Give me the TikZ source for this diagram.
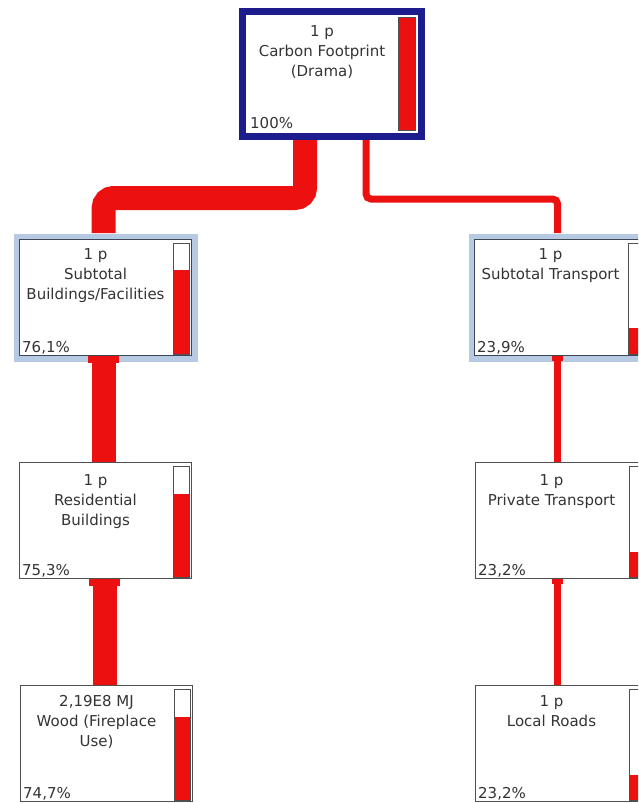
\documentclass[tikz,border=0pt]{standalone}
\usepackage{fontspec}
\setmainfont{DejaVu Sans}
\usetikzlibrary{calc,arrows.meta}

\definecolor{flowred}{RGB}{236,16,16}
\definecolor{navy}{RGB}{28,28,140}
\definecolor{frameblue}{RGB}{182,202,228}
\definecolor{edgegray}{RGB}{80,80,80}
\definecolor{subedge}{RGB}{62,70,86}
\definecolor{inkgray}{RGB}{52,52,52}

\tikzset{
  procbox/.style={draw=edgegray, line width=1.3pt, fill=white,
    minimum width=172pt, minimum height=116pt, inner sep=0pt, anchor=north west},
  subbox/.style={procbox, draw=subedge, preaction={draw=frameblue, line width=12pt}},
  rootbox/.style={draw=navy, line width=7pt, fill=white,
    minimum width=179pt, minimum height=125pt, inner sep=0pt},
  lbl/.style={font=\fontsize{15}{20}\selectfont, text=inkgray, align=center,
    inner sep=0pt, anchor=north},
  pct/.style={font=\fontsize{15}{18}\selectfont, text=inkgray, inner sep=0pt,
    anchor=base west},
  thickflow/.style={draw=flowred, line width=24pt},
  thinflow/.style={draw=flowred, line width=7pt},
  thickcap/.style={-{Rectangle[length=7pt,width=31pt,line width=0pt,round]}},
  thincap/.style={-{Rectangle[length=5pt,width=11pt,line width=0pt,round]}},
  barline/.style={draw=edgegray, line width=1pt},
}

% share bar at the right edge of a process box: #1 box, #2 fraction
\newcommand\flowbar[2]{%
  \fill[white] ($(#1.south east)+(-19,-2)$) rectangle ($(#1.south east)+(-3,-113)$);
  \fill[flowred] ($(#1.south east)+(-19,-2)$) rectangle ($(#1.south east)+(-3,{-2-#2*111})$);
  \draw[barline] ($(#1.south east)+(-19,-2)$) rectangle ($(#1.south east)+(-3,-113)$);
}

\begin{document}
\begin{tikzpicture}[x=1pt,y=-1pt]
  \useasboundingbox (0,0) rectangle (638,803);
  \clip (0,0) rectangle (638,803);
  \fill[white] (0,0) rectangle (638,803);

  % process boxes
  \node[rootbox] (root) at (332,74) {};
  \node[subbox]  (sub)   at (19,239)  {};
  \node[procbox] (res)   at (19,462)  {};
  \node[procbox] (wood)  at (20,685)  {};
  \node[subbox]  (trans) at (474,239) {};
  \node[procbox] (priv)  at (475,462) {};
  \node[procbox] (local) at (475,685) {};

  % root share bar (full)
  \fill[flowred] ($(root.south east)+(-27,-10)$) rectangle ($(root.south east)+(-10,-123)$);
  \draw[barline] ($(root.south east)+(-27,-10)$) rectangle ($(root.south east)+(-10,-123)$);

  \flowbar{sub}{0.761}
  \flowbar{res}{0.753}
  \flowbar{wood}{0.747}
  \flowbar{trans}{0.239}
  \flowbar{priv}{0.232}
  \flowbar{local}{0.232}

  % labels
  \node[lbl] (rootT) at (322,25) {1 p\\Carbon Footprint\\(Drama)};
  \node[pct] (rootP) at (250,128) {100\%};

  \node[lbl] (subT) at ($(sub.north west)+(76.5,9)$) {1 p\\Subtotal\\Buildings/Facilities};
  \node[pct] (subP) at ($(sub.south west)+(3,-4)$) {76,1\%};
  \node[lbl] (resT) at ($(res.north west)+(76.5,12)$) {1 p\\Residential\\Buildings};
  \node[pct] (resP) at ($(res.south west)+(3,-4)$) {75,3\%};
  \node[lbl] (woodT) at ($(wood.north west)+(76.5,10)$) {2,19E8 MJ\\Wood (Fireplace\\Use)};
  \node[pct] (woodP) at ($(wood.south west)+(3,-4)$) {74,7\%};

  \node[lbl] (transT) at ($(trans.north west)+(76.5,9)$) {1 p\\Subtotal Transport};
  \node[pct] (transP) at ($(trans.south west)+(3,-4)$) {23,9\%};
  \node[lbl] (privT) at ($(priv.north west)+(76.5,12)$) {1 p\\Private Transport};
  \node[pct] (privP) at ($(priv.south west)+(3,-4)$) {23,2\%};
  \node[lbl] (localT) at ($(local.north west)+(76.5,10)$) {1 p\\Local Roads};
  \node[pct] (localP) at ($(local.south west)+(3,-4)$) {23,2\%};

  % flows
  \coordinate (rootL) at ($(root.south)+(-27,0)$);
  \coordinate (rootR) at ($(root.south)+(34,0)$);
  \coordinate (bendL) at (0,198);
  \coordinate (bendR) at (0,199);
  \coordinate (subIn) at ($(sub.north)+(-2,-6)$);
  \coordinate (transIn) at ($(trans.north)+(-3,-6)$);

  \draw[thickflow, rounded corners=10pt]
    (rootL) -- (rootL |- bendL) -- (subIn |- bendL) -- (subIn);
  \draw[thinflow, rounded corners=5pt]
    (rootR) -- (rootR |- bendR) -- (transIn |- bendR) -- (transIn);

  \draw[thickflow, thickcap] ($(res.north)+(-2,0)$) -- ($(sub.south)+(-2,0)$);
  \draw[thickflow, thickcap] ($(wood.north)+(-2,0)$) -- ($(res.south)+(-1,0)$);
  \draw[thinflow, thincap] ($(priv.north)+(-4,0)$) -- ($(trans.south)+(-3,0)$);
  \draw[thinflow, thincap] ($(local.north)+(-4,0)$) -- ($(priv.south)+(-4,0)$);
\end{tikzpicture}
\end{document}
